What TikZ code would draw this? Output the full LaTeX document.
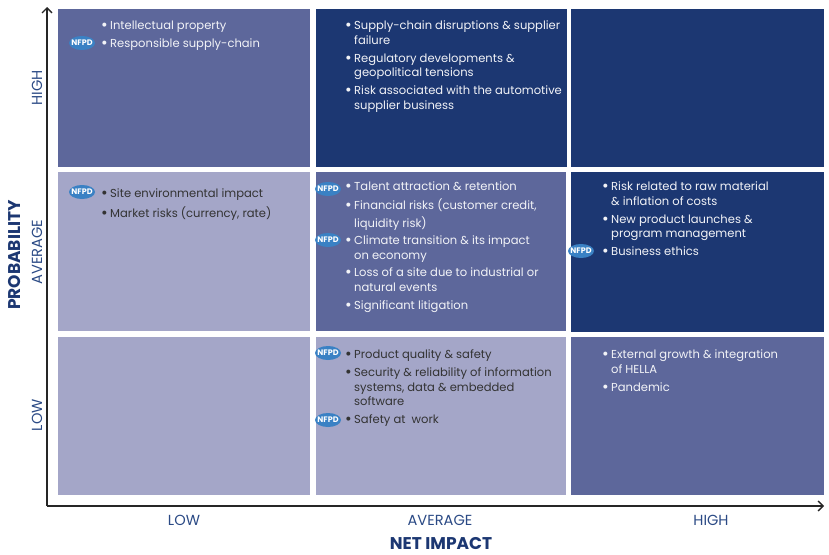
\documentclass[tikz,border=0pt]{standalone}
\usepackage{fontspec}
\setmainfont{Poppins}
\usetikzlibrary{arrows.meta,shapes.geometric}
\definecolor{riskhigh}{HTML}{1C3772}
\definecolor{riskmid}{HTML}{5D679B}
\definecolor{risklow}{HTML}{A4A6C8}
\definecolor{axislabel}{HTML}{2B4A85}
\definecolor{badgeblue}{HTML}{3A81C4}
\newcommand{\itm}{\leavevmode\llap{\raisebox{-0.8pt}{\scalebox{1.4}{\textbullet}}\hspace{2.5pt}}}
\begin{document}
\begin{tikzpicture}[x=1pt,y=-1pt,
  cell/.style={anchor=north west,inner sep=0pt,minimum width=251pt,minimum height=158pt},
  whiteitem/.style={anchor=north west,inner sep=0pt,align=left,text=white!92!riskmid,font=\fontsize{11.55}{14.6}\selectfont},
  darkitem/.style={whiteitem,text=black!80},
  badge/.style={ellipse,fill=badgeblue,text=white,inner xsep=-3.2pt,inner ysep=0pt,minimum width=26pt,minimum height=14pt,font=\fontsize{8}{9}\selectfont\bfseries},
  axislbl/.style={text=axislabel,inner sep=0pt,font=\fontsize{14.6}{16}\selectfont},
  axistitle/.style={text=riskhigh,inner sep=0pt,font=\fontsize{17}{18}\selectfont\bfseries},
  axisline/.style={line width=1.3pt,black!85,-{Straight Barb[length=5pt,width=10pt]}}]
\useasboundingbox (0,0) rectangle (829,554);
% grid
\node[cell,fill=riskmid,minimum width=252pt] (c11) at (58,9) {};
\node[cell,fill=riskhigh] (c12) at (316,9) {};
\node[cell,fill=riskhigh,minimum width=253pt] (c13) at (571,9) {};
\node[cell,fill=risklow,minimum width=252pt,minimum height=159pt] (c21) at (58,172) {};
\node[cell,fill=riskmid,minimum width=250pt,minimum height=159pt] (c22) at (316,172) {};
\node[cell,fill=riskhigh,minimum width=253pt,minimum height=160pt] (c23) at (571,172) {};
\node[cell,fill=risklow,minimum width=252pt] (c31) at (58,337) {};
\node[cell,fill=risklow,minimum width=250pt] (c32) at (316,337) {};
\node[cell,fill=riskmid,minimum width=253pt] (c33) at (571,337) {};
% axes
\coordinate (origin) at (47,506);
\coordinate (ytip) at (47,7);
\coordinate (xtip) at (824,506);
\draw[axisline] (origin) -- (ytip);
\draw[axisline] (origin) -- (xtip);
\node[axislbl,rotate=90] (yhigh) at (37,88) {HIGH};
\node[axislbl,rotate=90] (yavg) at (37,252) {AVERAGE};
\node[axislbl,rotate=90] (ylow) at (37,415) {LOW};
\node[axistitle,rotate=90] (ytitle) at (15,255) {PROBABILITY};
\node[axislbl] (xlow) at (184,520) {LOW};
\node[axislbl] (xavg) at (440,520) {AVERAGE};
\node[axislbl] (xhigh) at (711,520) {HIGH};
\node[axistitle] (xtitle) at (441,543) {NET IMPACT};
% items
\node[whiteitem] (i1) at (110,20.5) {\itm Intellectual property};
\node[whiteitem] (i2) at (110,38.5) {\itm Responsible supply-chain};
\node[whiteitem] (i3) at (354,20.5) {\itm Supply-chain disruptions \& supplier\\failure};
\node[whiteitem] (i4) at (354,53.5) {\itm Regulatory developments \&\\geopolitical tensions};
\node[whiteitem] (i5) at (354,85.5) {\itm Risk associated with the automotive\\supplier business};
\node[darkitem] (i6) at (110,188.5) {\itm Site environmental impact};
\node[darkitem] (i7) at (110,206.5) {\itm Market risks (currency, rate)};
\node[whiteitem] (i8) at (354,181.5) {\itm Talent attraction \& retention};
\node[whiteitem,font=\fontsize{11.55}{18}\selectfont] (i9) at (354,199) {\itm Financial risks (customer credit,\\liquidity risk)};
\node[whiteitem] (i10) at (354,235.5) {\itm Climate transition \& its impact\\on economy};
\node[whiteitem] (i11) at (354,267.5) {\itm Loss of a site due to industrial or\\natural events};
\node[whiteitem] (i12) at (354,300.5) {\itm Significant litigation};
\node[whiteitem] (i13) at (611,181.5) {\itm Risk related to raw material\\\& inflation of costs};
\node[whiteitem] (i14) at (611,214.5) {\itm New product launches \&\\program management};
\node[whiteitem] (i15) at (611,246.5) {\itm Business ethics};
\node[darkitem] (i16) at (354,349.5) {\itm Product quality \& safety};
\node[darkitem] (i17) at (354,367.5) {\itm Security \& reliability of information\\systems, data \& embedded\\software};
\node[darkitem] (i18) at (354,414.5) {\itm Safety at~ work};
\node[whiteitem] (i19) at (611,349.5) {\itm External growth \& integration\\of HELLA};
\node[whiteitem] (i20) at (611,382.5) {\itm Pandemic};
% badges
\node[badge] (b1) at (82,43) {NFPD};
\node[badge] (b2) at (82,192) {NFPD};
\node[badge] (b3) at (328,189) {NFPD};
\node[badge] (b4) at (328,240) {NFPD};
\node[badge] (b5) at (581,251) {NFPD};
\node[badge] (b6) at (328,353) {NFPD};
\node[badge] (b7) at (328,420) {NFPD};
\end{tikzpicture}
\end{document}
